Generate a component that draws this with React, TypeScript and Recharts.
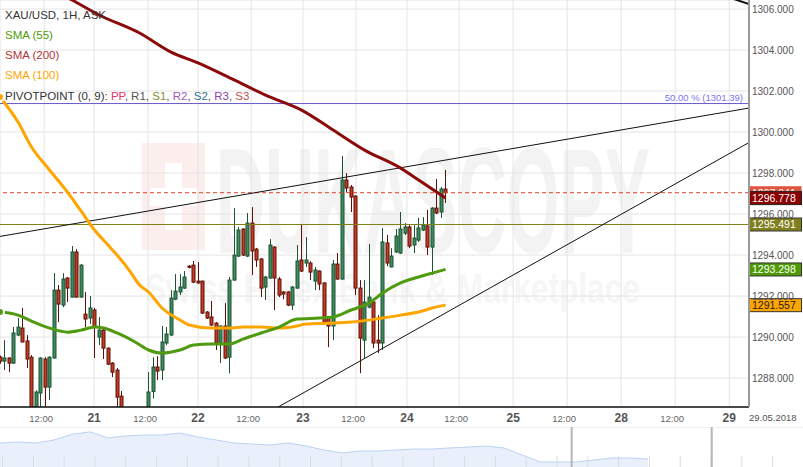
import React from 'react';
import {
  ComposedChart, Area, Bar, Line, XAxis, YAxis,
  CartesianGrid, ReferenceLine
} from 'recharts';

const FONT = 'Arial, "Liberation Sans", sans-serif';

// hourly candles: open, high, low, close
const candles: [number, number, number, number][] = [
  [1289.02, 1289.10, 1288.70, 1288.83],
  [1288.83, 1289.85, 1288.39, 1288.98],
  [1288.98, 1289.02, 1288.29, 1288.73],
  [1288.73, 1290.49, 1288.70, 1290.20],
  [1290.10, 1290.93, 1290.05, 1290.49],
  [1290.44, 1291.42, 1289.74, 1289.76],
  [1289.81, 1290.10, 1288.49, 1288.93],
  [1289.02, 1289.12, 1286.20, 1286.40],
  [1286.40, 1287.40, 1286.10, 1287.32],
  [1287.27, 1289.02, 1286.50, 1288.98],
  [1288.93, 1289.02, 1286.60, 1287.56],
  [1287.56, 1289.07, 1286.93, 1289.02],
  [1288.98, 1293.12, 1288.95, 1292.29],
  [1292.29, 1292.54, 1290.73, 1291.61],
  [1291.56, 1293.12, 1291.46, 1292.83],
  [1292.88, 1292.93, 1291.71, 1292.39],
  [1291.95, 1294.44, 1291.93, 1294.15],
  [1294.15, 1294.29, 1291.93, 1291.95],
  [1291.95, 1293.56, 1291.93, 1293.51],
  [1291.12, 1292.20, 1290.49, 1290.88],
  [1290.93, 1292.00, 1290.64, 1291.42],
  [1291.32, 1291.42, 1288.98, 1290.49],
  [1290.00, 1290.98, 1289.61, 1290.34],
  [1290.34, 1290.44, 1288.93, 1289.46],
  [1289.46, 1289.50, 1288.63, 1288.68],
  [1288.73, 1288.78, 1288.05, 1288.29],
  [1288.39, 1288.49, 1286.60, 1287.07],
  [1287.12, 1287.37, 1286.00, 1286.30],
  [1286.30, 1286.50, 1285.40, 1285.70],
  [1285.70, 1286.10, 1285.20, 1285.90],
  [1285.90, 1286.40, 1285.50, 1285.60],
  [1285.60, 1286.20, 1285.10, 1285.90],
  [1285.90, 1286.40, 1285.60, 1286.30],
  [1286.30, 1288.29, 1286.10, 1287.32],
  [1287.35, 1289.02, 1287.00, 1288.54],
  [1288.54, 1289.07, 1287.90, 1288.34],
  [1288.39, 1290.54, 1287.90, 1289.76],
  [1289.71, 1290.49, 1289.61, 1290.15],
  [1290.10, 1292.29, 1290.05, 1291.90],
  [1291.85, 1293.07, 1291.80, 1292.24],
  [1292.20, 1293.07, 1292.05, 1292.44],
  [1292.39, 1293.22, 1292.34, 1292.93],
  [1293.46, 1293.51, 1293.35, 1293.40],
  [1293.51, 1293.71, 1292.64, 1292.68],
  [1292.73, 1293.66, 1292.60, 1292.64],
  [1292.73, 1292.75, 1291.12, 1291.17],
  [1291.22, 1291.27, 1290.88, 1290.93],
  [1290.98, 1291.76, 1290.54, 1290.59],
  [1290.68, 1290.73, 1289.37, 1289.71],
  [1289.71, 1290.56, 1288.73, 1290.54],
  [1290.54, 1291.66, 1288.93, 1288.98],
  [1289.02, 1292.93, 1288.24, 1292.78],
  [1292.78, 1296.29, 1292.75, 1294.00],
  [1293.95, 1295.37, 1293.90, 1295.22],
  [1295.27, 1295.30, 1293.95, 1294.00],
  [1293.95, 1296.05, 1293.90, 1295.56],
  [1295.56, 1296.34, 1293.03, 1294.20],
  [1294.29, 1294.35, 1293.42, 1293.76],
  [1293.81, 1293.85, 1291.95, 1292.39],
  [1292.44, 1292.98, 1291.81, 1292.93],
  [1292.88, 1294.78, 1292.85, 1294.49],
  [1294.39, 1294.44, 1291.32, 1292.88],
  [1292.83, 1292.93, 1291.95, 1292.05],
  [1292.20, 1292.25, 1291.85, 1292.10],
  [1292.20, 1292.25, 1291.51, 1291.56],
  [1291.56, 1292.50, 1291.32, 1292.44],
  [1292.39, 1294.49, 1292.35, 1293.71],
  [1293.76, 1295.51, 1293.17, 1293.22],
  [1293.61, 1294.88, 1293.42, 1293.76],
  [1293.61, 1293.70, 1292.78, 1293.17],
  [1292.73, 1293.42, 1292.29, 1293.27],
  [1293.22, 1293.25, 1292.29, 1292.59],
  [1292.64, 1292.66, 1290.68, 1290.73],
  [1290.98, 1291.00, 1289.51, 1290.54],
  [1290.54, 1293.76, 1289.85, 1293.56],
  [1293.56, 1294.10, 1292.80, 1292.83],
  [1292.83, 1298.83, 1292.80, 1297.66],
  [1297.66, 1298.00, 1297.07, 1297.27],
  [1297.32, 1297.42, 1296.10, 1296.83],
  [1296.88, 1296.90, 1292.05, 1292.39],
  [1292.39, 1292.78, 1288.24, 1289.95],
  [1289.85, 1292.78, 1288.98, 1291.71],
  [1291.46, 1294.54, 1291.40, 1291.95],
  [1291.71, 1291.90, 1289.46, 1289.71],
  [1289.85, 1291.07, 1289.22, 1289.71],
  [1289.71, 1295.32, 1289.37, 1294.64],
  [1294.59, 1294.98, 1293.46, 1293.61],
  [1293.42, 1294.34, 1293.40, 1293.95],
  [1294.15, 1295.27, 1294.10, 1294.93],
  [1294.10, 1296.10, 1294.05, 1295.27],
  [1295.07, 1295.56, 1294.98, 1295.37],
  [1295.37, 1295.46, 1294.34, 1294.44],
  [1294.49, 1295.46, 1294.10, 1294.83],
  [1294.73, 1295.81, 1294.64, 1295.32],
  [1295.22, 1295.85, 1295.17, 1295.46],
  [1295.42, 1296.20, 1294.00, 1294.39],
  [1294.39, 1296.34, 1293.03, 1296.29],
  [1296.29, 1297.71, 1296.00, 1296.05],
  [1296.10, 1297.32, 1295.81, 1297.22],
  [1297.22, 1298.15, 1296.54, 1297.04],
];

// moving averages, [candle index, value]
const sma55Points: [number, number][] = [
  [0, 1291.22], [4, 1291.07], [7, 1290.78], [11, 1290.44], [15, 1290.24],
  [18, 1290.34], [21, 1290.49], [23, 1290.44], [26, 1290.20], [30, 1289.76],
  [33, 1289.37], [36, 1289.22], [40, 1289.37], [43, 1289.61], [47, 1289.66],
  [51, 1289.66], [54, 1289.90], [58, 1290.20], [62, 1290.49], [66, 1290.88],
  [71, 1290.93], [74, 1290.98], [78, 1291.32], [82, 1291.66], [85, 1292.15],
  [89, 1292.64], [93, 1292.93], [96, 1293.12], [99, 1293.30],
];

const sma100Points: [number, number][] = [
  [0, 1301.71], [4, 1300.49], [7, 1299.27], [11, 1298.15], [15, 1297.07],
  [18, 1296.15], [21, 1295.22], [24, 1294.49], [26, 1294.00], [29, 1293.17],
  [31, 1292.54], [33, 1292.20], [36, 1291.42], [40, 1290.83], [42, 1290.59],
  [47, 1290.44], [51, 1290.44], [54, 1290.49], [58, 1290.49], [62, 1290.44],
  [66, 1290.54], [68, 1290.64], [73, 1290.68], [78, 1290.73], [85, 1290.93],
  [89, 1291.07], [93, 1291.22], [96, 1291.42], [99, 1291.56],
];

const sma200Points: [number, number][] = [
  [0, 1308.34], [8, 1307.37], [16, 1306.44], [22, 1305.71], [31, 1304.83],
  [38, 1303.90], [44, 1303.37], [52, 1302.54], [59, 1301.80], [67, 1301.07],
  [74, 1300.10], [81, 1299.12], [89, 1298.24], [93, 1297.66], [97, 1297.07],
  [99, 1296.78],
];

const xTicks = [9.8, 20.9, 32.9, 44, 55.8, 67.3, 79.1, 90.4, 102, 114, 126, 138, 150, 162];
const xTickLabels = ['12:00', '21', '12:00', '22', '12:00', '23', '12:00', '24', '12:00', '25', '12:00', '28', '12:00', '29'];
const yTicks = [1288, 1290, 1292, 1294, 1296, 1298, 1300, 1302, 1304, 1306];

const fibLevel = 1301.39;
const lastPrice = 1297.041;
const pivotS1 = 1295.491;
const sma200Last = 1296.778;
const sma55Last = 1293.298;
const sma100Last = 1291.557;

const trendLines = [
  [{ x: 0, y: 1294.91 }, { x: 166.4, y: 1301.17 }],
  [{ x: 61.8, y: 1286.59 }, { x: 166.4, y: 1299.49 }],
  [{ x: 160, y: 1306.71 }, { x: 166.4, y: 1306.24 }],
];

// overview strip under the chart (weekly-ish closes)
const navValues = [
  1339.6, 1341.2, 1339.6, 1344.6, 1354.0, 1358.0, 1347.9, 1351.2, 1352.8, 1352.8,
  1356.1, 1349.5, 1344.6, 1339.6, 1338.0, 1336.3, 1339.6, 1334.6, 1328.1, 1323.1,
  1326.4, 1326.4, 1328.1, 1329.7, 1329.7, 1331.4, 1333.0, 1334.6, 1331.4, 1319.8,
  1308.3, 1308.3, 1308.3, 1311.6, 1314.9, 1314.9, 1313.2,
];
const navHandles = [31.75, 39.53];
const navMarks = Array.from({ length: 26 }, (_, k) => 0.14 + k * 1.711);

const toMap = (pts: [number, number][]) => new Map(pts);
const m55 = toMap(sma55Points);
const m100 = toMap(sma100Points);
const m200 = toMap(sma200Points);

const rows = candles.map(([open, high, low, close], i) => ({
  i, open, high, low, close,
  sma55: m55.get(i) ?? null,
  sma100: m100.get(i) ?? null,
  sma200: m200.get(i) ?? null,
}));

const navData = navValues.map((v, i) => ({ n: i, v }));

const Candle = (props: any) => {
  const { x, y, width, height, payload } = props;
  if (!payload || height == null) return null;
  const { open, close, high, low } = payload;
  const top = Math.min(y, y + height);
  const h = Math.abs(height);
  const per = h / ((high - low) || 1);
  const yO = top + (high - open) * per;
  const yC = top + (high - close) * per;
  const up = close >= open;
  const cx = Math.round(x + width / 2) + 0.5;
  const bTop = Math.min(yO, yC);
  const bH = Math.max(1, Math.abs(yO - yC));
  const edge = up ? '#1d5333' : '#5c1208';
  return (
    <g>
      <line x1={cx} x2={cx} y1={top} y2={top + h} stroke={edge} strokeWidth={1} />
      <rect x={cx - 1.5} y={bTop} width={3} height={bH} fill={up ? '#3d8b5e' : '#c43a25'} stroke={edge} strokeWidth={1} />
    </g>
  );
};

const XTick = (props: any) => {
  const { x, y, payload } = props;
  const idx = xTicks.indexOf(payload.value);
  const label = xTickLabels[idx] ?? '';
  const isDay = label !== '12:00';
  return (
    <text
      x={x + (isDay ? 0 : -3)}
      y={y + (isDay ? 15 : 14.5)}
      textAnchor="middle"
      fontFamily={FONT}
      fontSize={isDay ? 12 : 9.5}
      fontWeight={isDay ? 'bold' : 'normal'}
      fill={isDay ? '#555' : '#666'}
    >
      {label}
    </text>
  );
};

const YTick = (props: any) => {
  const { y, payload } = props;
  return (
    <text x={752} y={y + 3.5} fontFamily={FONT} fontSize={10} fill="#555">
      {Number(payload.value).toFixed(3)}
    </text>
  );
};

const PriceTag = ({ viewBox, text, fill, color, border }: any) => {
  if (!viewBox) return null;
  const cy = viewBox.y;
  const right = viewBox.x + viewBox.width;
  return (
    <g>
      <rect x={right + 0.5} y={cy - 6.5} width={52} height={13} fill={fill} stroke={border || 'none'} />
      <text x={right + 3} y={cy + 4} fontFamily={FONT} fontSize={10.5} fill={color}>{text}</text>
    </g>
  );
};

const FibLabel = ({ viewBox }: any) => {
  if (!viewBox) return null;
  return (
    <text
      x={viewBox.x + viewBox.width - 6}
      y={viewBox.y - 3}
      textAnchor="end"
      fontFamily={FONT}
      fontSize={9.5}
      fill="#7b74ee"
    >
      {`50.00 % (${fibLevel.toFixed(2)})`}
    </text>
  );
};

const Watermark = () => (
  <svg width={803} height={407} style={{ position: 'absolute', left: 0, top: 0 }}>
    <rect x={142} y={143} width={63} height={107} fill="#fdeeee" />
    <rect x={165} y={163} width={17} height={67} fill="#fff" />
    <rect x={150} y={188} width={47} height={18} fill="#fff" />
    <text x={216} y={253} fontFamily={FONT} fontWeight="bold" fontSize={150} fill="#f3f3f3"
      textLength={434} lengthAdjust="spacingAndGlyphs">DUKASCOPY</text>
    <text x={145} y={303} fontFamily={FONT} fontWeight="bold" fontSize={43} fill="#f6f6f6"
      textLength={495} lengthAdjust="spacingAndGlyphs">Swiss Forex Bank &amp; Marketplace</text>
  </svg>
);

const legendRow = (top: number): React.CSSProperties => ({
  position: 'absolute', left: 5, top, fontSize: 11.5, fontFamily: FONT, whiteSpace: 'nowrap', lineHeight: '14px',
});

export default function App() {
  return (
    <div style={{ position: 'fixed', left: 0, top: 0, width: 803, height: 467, background: '#fff', overflow: 'hidden', fontFamily: FONT }}>
      <Watermark />
      <div style={{ position: 'absolute', left: 0, top: 0 }}>
        <ComposedChart width={803} height={432} data={rows} margin={{ top: 0, right: 0, bottom: 0, left: 0 }}>
          <CartesianGrid stroke="#e4e4e4" strokeWidth={1} />
          <XAxis
            dataKey="i"
            type="number"
            domain={[0, 166.4]}
            ticks={xTicks}
            interval={0}
            allowDataOverflow
            height={25}
            tickSize={0}
            tickMargin={0}
            tickLine={false}
            axisLine={{ stroke: '#111', strokeWidth: 1.5 }}
            tick={<XTick />}
          />
          <YAxis
            orientation="right"
            type="number"
            domain={[1286.59, 1306.44]}
            ticks={yTicks}
            allowDataOverflow
            width={54}
            tickSize={0}
            tickMargin={3}
            tickLine={false}
            axisLine={{ stroke: '#9a9a9a', strokeWidth: 2 }}
            tick={<YTick />}
          />
          <ReferenceLine y={fibLevel} stroke="#6a5acd" strokeWidth={1} label={<FibLabel />} />
          <ReferenceLine y={lastPrice} stroke="#e0432d" strokeDasharray="4 3" strokeWidth={1}
            label={<PriceTag text={lastPrice.toFixed(3)} fill="#e0553f" color="#fff" />} />
          <ReferenceLine y={pivotS1} stroke="#80801a" strokeWidth={1}
            label={<PriceTag text={pivotS1.toFixed(3)} fill="#7f7f1e" color="#fff" border="#333" />} />
          {trendLines.map((seg, k) => (
            <ReferenceLine key={k} segment={seg} stroke="#111" strokeWidth={k === 2 ? 2 : 1} ifOverflow="hidden" />
          ))}
          <Bar
            dataKey={(d: any) => [d.low, d.high]}
            barSize={4}
            shape={<Candle />}
            isAnimationActive={false}
          />
          <Line type="monotone" dataKey="sma100" stroke="#ffa500" strokeWidth={3} dot={false} connectNulls isAnimationActive={false} />
          <Line type="monotone" dataKey="sma55" stroke="#4f9a0f" strokeWidth={3} dot={false} connectNulls isAnimationActive={false} />
          <Line type="monotone" dataKey="sma200" stroke="#8b0a0a" strokeWidth={3} dot={false} connectNulls isAnimationActive={false} />
          <ReferenceLine y={sma200Last} stroke="none"
            label={<PriceTag text={sma200Last.toFixed(3)} fill="#8b0000" color="#fff" border="#222" />} />
          <ReferenceLine y={sma55Last} stroke="none"
            label={<PriceTag text={sma55Last.toFixed(3)} fill="#4e9a06" color="#fff" border="#333" />} />
          <ReferenceLine y={sma100Last} stroke="none"
            label={<PriceTag text={sma100Last.toFixed(3)} fill="#ffa500" color="#222" border="#333" />} />
        </ComposedChart>
      </div>

      <div style={legendRow(8)}><span style={{ color: '#333' }}>XAU/USD, 1H, ASK</span></div>
      <div style={legendRow(28)}><span style={{ color: '#4e9a06' }}>SMA (55)</span></div>
      <div style={legendRow(48)}><span style={{ color: '#b03535' }}>SMA (200)</span></div>
      <div style={legendRow(68)}><span style={{ color: '#ffa500' }}>SMA (100)</span></div>
      <div style={legendRow(89)}>
        <span style={{ color: '#333' }}>PIVOTPOINT (0, 9): </span>
        <span style={{ color: '#e8336d' }}>PP</span>
        <span style={{ color: '#555' }}>, R1, </span>
        <span style={{ color: '#8a8a2a' }}>S1</span>
        <span style={{ color: '#555' }}>, </span>
        <span style={{ color: '#9b59b6' }}>R2</span>
        <span style={{ color: '#555' }}>, </span>
        <span style={{ color: '#2f6f8f' }}>S2</span>
        <span style={{ color: '#555' }}>, </span>
        <span style={{ color: '#8e44ad' }}>R3</span>
        <span style={{ color: '#555' }}>, </span>
        <span style={{ color: '#c0504d' }}>S3</span>
      </div>

      <div style={{ position: 'absolute', left: 749, top: 412, fontSize: 9.5, color: '#555', fontFamily: FONT }}>29.05.2018</div>

      <div style={{ position: 'absolute', left: 0, top: 427 }}>
        <ComposedChart width={803} height={40} data={navData} margin={{ top: 0, right: 0, bottom: 0, left: 0 }}>
          <XAxis dataKey="n" type="number" domain={[0, 44.6]} hide />
          <YAxis domain={[1300, 1366]} hide />
          <Area type="linear" dataKey="v" stroke="#bcd2f3" strokeWidth={1} fill="#dfe9f9" fillOpacity={0.7} isAnimationActive={false} />
          <ReferenceLine y={1366} stroke="#e2e2e2" />
          {navMarks.map((m, k) => (
            <ReferenceLine key={k} segment={[{ x: m, y: 1300 }, { x: m, y: 1318 }]} stroke="#dcdcdc" />
          ))}
          {navHandles.map((h, k) => (
            <ReferenceLine key={`h${k}`} x={h} stroke="#b5b5b5" strokeWidth={2} />
          ))}
        </ComposedChart>
      </div>
    </div>
  );
}
